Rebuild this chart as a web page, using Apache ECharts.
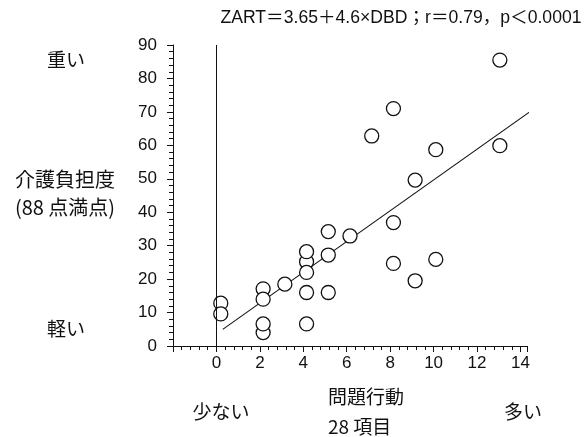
<!DOCTYPE html>
<html>
<head>
<meta charset="utf-8">
<script src="https://cdn.jsdelivr.net/npm/echarts@6/dist/echarts.min.js"></script>
<style>
  html, body { margin: 0; padding: 0; background: #fff; }
  #chart { width: 584px; height: 437px; }
</style>
</head>
<body>
<div id="chart"></div>
<script>
// Problem behaviour score (28 items) per patient, plotted with a slight offset from the integer
const problemBehaviour = [
  0.2, 2.15, 4.15,
  0.2, 2.15, 2.15, 2.15, 3.15,
  4.15, 4.15, 4.15, 4.15,
  5.15, 5.15, 5.15, 6.15, 7.15,
  8.15, 8.15, 8.15, 9.15, 9.15,
  10.1, 10.1, 13.05, 13.05
];
// Care burden score (out of 88) for the same patients
const careBurden = [
  12.8, 4.0, 25.2,
  9.6, 17.1, 14.0, 6.6, 18.5,
  28.2, 22.0, 16.0, 6.6,
  34.2, 27.2, 16.0, 32.9, 62.8,
  71.0, 36.9, 24.7, 49.6, 19.5,
  58.7, 25.9, 85.5, 59.9
];
// Regression: ZART = intercept + slope × DBD, drawn over this DBD span
const regIntercept = 3.65;
const regSlope = 4.6;
const regRange = [0.29, 14.6];

// Axis tick labels
const xTicks = [0, 2, 4, 6, 8, 10, 12, 14];
const yTicks = [0, 10, 20, 30, 40, 50, 60, 70, 80, 90];

const points = problemBehaviour.map((x, i) => [x, careBurden[i]]);
const regLine = regRange.map(x => [x, regIntercept + regSlope * x]);

const FONT = '"Liberation Sans", "Noto Sans CJK JP", sans-serif';
const JP = '"Noto Sans CJK JP", sans-serif';
const INK = '#111';

const chart = echarts.init(document.getElementById('chart'), null, { renderer: 'canvas' });

const textEl = (x, y, text, size, align) => ({
  type: 'text', x, y,
  style: { text, fill: INK, font: size + 'px ' + JP, align: align || 'left', verticalAlign: 'middle' }
});

chart.setOption({
  animation: false,
  backgroundColor: '#fff',
  grid: { left: 173, right: 57, top: 45, height: 301 },
  xAxis: {
    type: 'value',
    min: -2, max: 14.3, interval: 2,
    axisLine: { show: true, onZero: false, lineStyle: { color: INK, width: 1 } },
    axisTick: { show: true, length: 6 },
    minorTick: { show: true, splitNumber: 5, length: 4, lineStyle: { color: INK } },
    axisLabel: { color: INK, fontSize: 17, fontFamily: FONT, margin: 9,
      formatter: v => (xTicks.indexOf(v) >= 0 ? String(v) : '') },
    splitLine: { show: true, lineStyle: { color: 'rgba(0,0,0,0)' } }
  },
  yAxis: {
    type: 'value',
    min: 0, max: 90, interval: 10,
    axisLine: { show: true, onZero: false, lineStyle: { color: INK, width: 1 } },
    axisTick: { show: true, length: 6 },
    minorTick: { show: true, splitNumber: 5, length: 4, lineStyle: { color: INK } },
    axisLabel: { color: INK, fontSize: 17, fontFamily: FONT, margin: 16,
      formatter: v => (yTicks.indexOf(v) >= 0 ? String(v) : '') },
    splitLine: { show: true, lineStyle: { color: 'rgba(0,0,0,0)' } }
  },
  series: [
    {
      type: 'line',
      data: regLine, clip: false, symbol: 'none', silent: true,
      lineStyle: { color: INK, width: 1.1 }, z: 2,
      // vertical reference line at DBD = 0
      markLine: {
        silent: true, symbol: 'none', label: { show: false },
        lineStyle: { color: INK, width: 1, type: 'solid' },
        data: [{ xAxis: 0 }]
      }
    },
    {
      type: 'scatter',
      data: points, symbol: 'circle', symbolSize: 14, clip: false,
      itemStyle: { color: '#fff', borderColor: INK, borderWidth: 1.3, opacity: 1 },
      z: 3
    }
  ],
  graphic: [
    { type: 'text', x: 401, y: 18,
      style: { text: 'ZART＝3.65＋4.6×DBD；r＝0.79，p＜0.0001', fill: INK,
        font: '17.6px ' + FONT, align: 'center', verticalAlign: 'middle' } },
    textEl(66, 60, '重い', 19, 'center'),
    textEl(66, 329, '軽い', 19, 'center'),
    textEl(65, 179, '介護負担度', 20, 'center'),
    textEl(65, 207, '(88 点満点)', 20, 'center'),
    textEl(221, 412, '少ない', 19, 'center'),
    textEl(328, 397, '問題行動', 19, 'left'),
    textEl(328, 427, '28 項目', 19, 'left'),
    textEl(523, 412, '多い', 19, 'center')
  ]
});
</script>
</body>
</html>
